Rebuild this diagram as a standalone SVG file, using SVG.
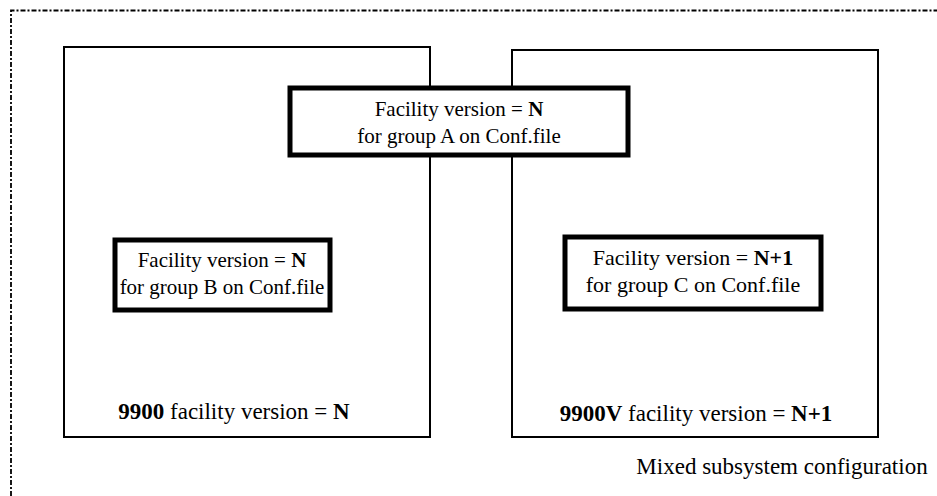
<svg xmlns="http://www.w3.org/2000/svg" width="937" height="496" viewBox="0 0 937 496">
<style>
.t{font-family:"Liberation Serif","Times New Roman",Times,serif;font-size:21px;fill:#000;text-anchor:middle}
.l{font-size:23px}
.m{font-size:22px}
.b{font-weight:bold}
.sys{fill:#fff;stroke:#000;stroke-width:2}
.grp{fill:#fff;stroke:#000;stroke-width:5}
</style>
<rect x="0" y="0" width="937" height="496" fill="#fff"/>
<path d="M11 496 V10.5 H937" fill="none" stroke="#000" stroke-width="1.8" stroke-dasharray="5 2 2 2"/>
<g id="sys9900">
<rect class="sys" x="64" y="47" width="366" height="390"/>
<text class="t l" x="234" y="419"><tspan class="b">9900</tspan> facility version = <tspan class="b">N</tspan></text>
</g>
<g id="sys9900V">
<rect class="sys" x="512" y="50" width="366" height="387"/>
<text class="t l" x="696" y="421"><tspan class="b">9900V</tspan> facility version = <tspan class="b">N+1</tspan></text>
</g>
<g id="groupA">
<rect class="grp" x="290" y="88" width="338" height="67"/>
<text class="t" x="459" y="116">Facility version = <tspan class="b">N</tspan></text>
<text class="t" x="459" y="143">for group A on Conf.file</text>
</g>
<g id="groupB">
<rect class="grp" x="115" y="240" width="215" height="70"/>
<text class="t" x="222" y="267">Facility version = <tspan class="b">N</tspan></text>
<text class="t" x="222" y="294">for group B on Conf.file</text>
</g>
<g id="groupC">
<rect class="grp" x="565" y="237" width="256" height="72"/>
<text class="t m" x="693" y="265">Facility version = <tspan class="b">N+1</tspan></text>
<text class="t m" x="693" y="292">for group C on Conf.file</text>
</g>
<g id="connectors"></g>
<text class="t l" x="782" y="474">Mixed subsystem configuration</text>
</svg>
